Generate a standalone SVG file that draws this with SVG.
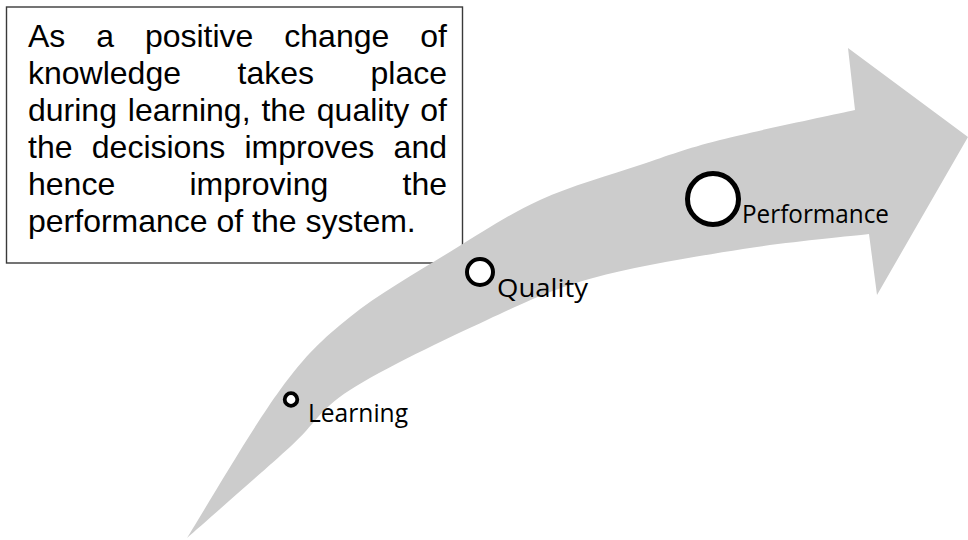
<svg xmlns="http://www.w3.org/2000/svg" width="968" height="540" viewBox="0 0 968 540">
<style>
.box{fill:#ffffff;stroke:#3a3a3a;stroke-width:1.4}
.body{font-family:"Liberation Sans",Arial,sans-serif;font-size:32px;fill:#000}
.arrow{fill:#cccccc;stroke:none}
.dot{fill:#ffffff;stroke:#000000}
.lbl{font-family:"Open Sans","Noto Sans",sans-serif;font-size:26px;fill:#000}
</style>
<rect width="968" height="540" fill="#ffffff"/>
<g id="note">
<rect class="box" x="6.5" y="7" width="456" height="256"/>
<text class="body"><tspan x="28" y="47">As</tspan><tspan x="96.2" y="47">a</tspan><tspan x="144.9" y="47">positive</tspan><tspan x="284.3" y="47">change</tspan><tspan x="447" y="47" text-anchor="end">of</tspan></text>
<text class="body"><tspan x="28" y="84">knowledge</tspan><tspan x="237.5" y="84">takes</tspan><tspan x="447" y="84" text-anchor="end">place</tspan></text>
<text class="body"><tspan x="28" y="121">during</tspan><tspan x="127.8" y="121">learning,</tspan><tspan x="261.4" y="121">the</tspan><tspan x="316.8" y="121">quality</tspan><tspan x="447" y="121" text-anchor="end">of</tspan></text>
<text class="body"><tspan x="28" y="158">the</tspan><tspan x="91.8" y="158">decisions</tspan><tspan x="244.5" y="158">improves</tspan><tspan x="447" y="158" text-anchor="end">and</tspan></text>
<text class="body"><tspan x="28" y="195">hence</tspan><tspan x="189.5" y="195">improving</tspan><tspan x="447" y="195" text-anchor="end">the</tspan></text>
<text class="body" x="28" y="232">performance of the system.</text>
</g>
<g id="connectors">
<path id="arrow" class="arrow" d="M187,538 C202.5,513.3 252.8,426.8 280,390 C307.2,353.2 321.2,340.3 350,317 C378.8,293.7 421.3,269.5 453,250 C484.7,230.5 508.8,214.2 540,200 C571.2,185.8 610,175 640,165 C670,155 684.2,149.2 720,140 C755.8,130.8 832.5,115 855,110 L848,48 L968,137 L877,295 L869,234 C848,236.5 789,241.7 743,249 C697,256.3 635.7,266.2 593,278 C550.3,289.8 527.5,301.3 487,320 C446.5,338.7 382.8,368.8 350,390 C317.2,411.2 317.2,422.3 290,447 C262.8,471.7 204.2,522.8 187,538 Z"/>
</g>
<g id="learning">
<circle class="dot" cx="291" cy="399.5" r="6.3" stroke-width="3.8"/>
<text class="lbl" x="308" y="422" textLength="100" lengthAdjust="spacingAndGlyphs">Learning</text>
</g>
<g id="quality">
<circle class="dot" cx="480" cy="272" r="13" stroke-width="4"/>
<text class="lbl" x="497" y="297" textLength="91" lengthAdjust="spacingAndGlyphs">Quality</text>
</g>
<g id="performance">
<circle class="dot" cx="713" cy="199" r="25.5" stroke-width="5"/>
<text class="lbl" x="742" y="223" textLength="147" lengthAdjust="spacingAndGlyphs">Performance</text>
</g>
</svg>
